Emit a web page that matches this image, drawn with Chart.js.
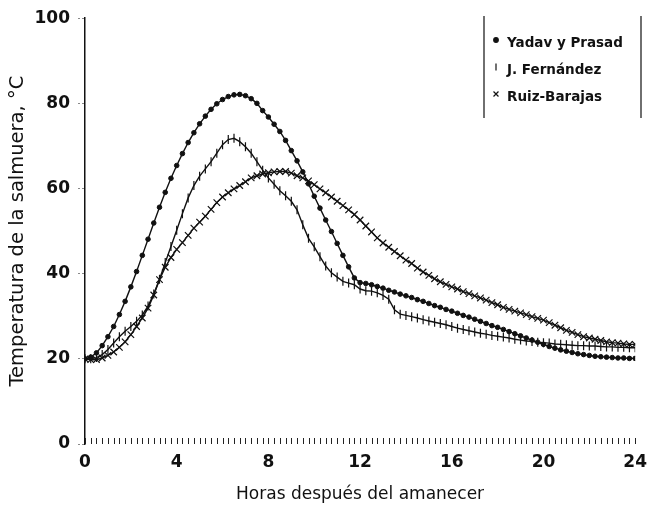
<!DOCTYPE html>
<html>
<head>
<meta charset="utf-8">
<script src="https://cdn.jsdelivr.net/npm/chart.js@4.4.1/dist/chart.umd.min.js"></script>
<style>
  html, body { margin: 0; padding: 0; background: #fff; }
  #wrap { width: 655px; height: 508px; }
</style>
</head>
<body>
<div id="wrap"><canvas id="brine-chart" width="655" height="508"></canvas></div>
<script>
// Hours after sunrise, one reading every quarter hour
const hours = [
    0, 0.25, 0.5, 0.75, 1, 1.25, 1.5, 1.75, 2, 2.25, 2.5, 2.75,
    3, 3.25, 3.5, 3.75, 4, 4.25, 4.5, 4.75, 5, 5.25, 5.5, 5.75,
    6, 6.25, 6.5, 6.75, 7, 7.25, 7.5, 7.75, 8, 8.25, 8.5, 8.75,
    9, 9.25, 9.5, 9.75, 10, 10.25, 10.5, 10.75, 11, 11.25, 11.5, 11.75,
    12, 12.25, 12.5, 12.75, 13, 13.25, 13.5, 13.75, 14, 14.25, 14.5, 14.75,
    15, 15.25, 15.5, 15.75, 16, 16.25, 16.5, 16.75, 17, 17.25, 17.5, 17.75,
    18, 18.25, 18.5, 18.75, 19, 19.25, 19.5, 19.75, 20, 20.25, 20.5, 20.75,
    21, 21.25, 21.5, 21.75, 22, 22.25, 22.5, 22.75, 23, 23.25, 23.5, 23.75,
    24
];

// Brine temperature, °C
const yadavPrasad = [
    20.0, 20.4, 21.4, 23.1, 25.2, 27.6, 30.4, 33.5, 36.9, 40.5, 44.3, 48.1,
    51.9, 55.6, 59.1, 62.4, 65.4, 68.2, 70.8, 73.1, 75.2, 77.0, 78.6, 79.9,
    80.9, 81.6, 82.0, 82.1, 81.8, 81.1, 80.0, 78.3, 76.8, 75.1, 73.4, 71.3,
    68.9, 66.5, 63.9, 61.1, 58.2, 55.4, 52.6, 49.9, 47.1, 44.3, 41.6, 39.0,
    37.9, 37.7, 37.4, 37.0, 36.6, 36.1, 35.7, 35.2, 34.8, 34.4, 33.9, 33.5,
    33.0, 32.5, 32.1, 31.6, 31.2, 30.7, 30.2, 29.8, 29.3, 28.8, 28.3, 27.8,
    27.4, 26.9, 26.4, 25.9, 25.4, 24.9, 24.4, 23.9, 23.4, 22.9, 22.5, 22.1,
    21.8, 21.5, 21.2, 21.0, 20.8, 20.6, 20.5, 20.4, 20.3, 20.2, 20.2, 20.1,
    20.1
];

const fernandez = [
    20.0, 20.0, 20.3, 21.0, 22.2, 23.7, 25.2, 26.5, 27.6, 28.8, 30.3, 32.4,
    35.2, 38.7, 42.6, 46.4, 50.2, 54.1, 57.8, 60.7, 62.9, 64.6, 66.3, 68.3,
    70.3, 71.5, 71.8, 71.0, 69.8, 68.3, 66.3, 64.3, 62.5, 61.0, 59.5, 58.3,
    57.0, 55.0, 51.5, 48.3, 46.3, 44.0, 41.8, 40.2, 39.2, 38.2, 37.8, 37.4,
    36.4, 36.0, 35.9, 35.5, 34.9, 34.0, 31.5, 30.5, 30.2, 29.9, 29.6, 29.2,
    28.9, 28.6, 28.3, 28.0, 27.6, 27.2, 26.9, 26.6, 26.3, 26.0, 25.8, 25.5,
    25.3, 25.1, 24.9, 24.6, 24.4, 24.2, 24.1, 23.9, 23.8, 23.7, 23.5, 23.4,
    23.3, 23.2, 23.1, 23.1, 23.0, 23.0, 22.9, 22.8, 22.8, 22.7, 22.7, 22.6,
    22.6
];

const ruizBarajas = [
    20.0, 19.8, 19.8, 20.2, 20.8, 21.6, 22.7, 24.0, 25.7, 27.6, 29.6, 31.9,
    35.0, 38.6, 41.5, 43.8, 45.7, 47.3, 49.0, 50.7, 52.1, 53.5, 55.1, 56.7,
    58.0, 59.0, 59.9, 60.7, 61.6, 62.5, 63.0, 63.4, 63.7, 63.9, 64.0, 64.0,
    63.6, 63.0, 62.5, 61.8, 60.9, 59.9, 59.0, 58.0, 57.0, 56.0, 55.0, 53.9,
    52.6, 51.2, 49.8, 48.4, 47.2, 46.2, 45.2, 44.2, 43.2, 42.4, 41.3, 40.4,
    39.6, 38.8, 38.1, 37.5, 36.9, 36.4, 35.8, 35.3, 34.8, 34.3, 33.8, 33.2,
    32.7, 32.1, 31.6, 31.2, 30.8, 30.4, 29.9, 29.5, 29.1, 28.5, 27.9, 27.3,
    26.7, 26.2, 25.7, 25.2, 24.9, 24.6, 24.3, 24.0, 23.8, 23.7, 23.5, 23.4,
    23.4
];

const seriesNames = ['Yadav y Prasad', 'J. Fern\u00e1ndez', 'Ruiz-Barajas'];
const xTickValues = [0, 4, 8, 12, 16, 20, 24];
const yTickValues = [0, 20, 40, 60, 80, 100];

const FONT = 'DejaVu Sans';
const INK = '#111';

const markers = [
    { pointStyle: 'circle', radius: 2.3, rotation: 0, borderWidth: 1 },
    { pointStyle: 'line', radius: 4.5, rotation: 90, borderWidth: 1.2 },
    { pointStyle: 'crossRot', radius: 4.6, rotation: 0, borderWidth: 1.2 }
];

function toPoints(values) {
    return hours.map((h, i) => ({ x: h, y: values[i] }));
}

// Short upward marks along the time axis, one per reading
const minorTicks = {
    id: 'minorTicks',
    afterDraw(chart) {
        const { ctx, chartArea, scales } = chart;
        ctx.save();
        ctx.strokeStyle = '#222';
        ctx.lineWidth = 1;
        hours.forEach(h => {
            const x = Math.round(scales.x.getPixelForValue(h)) + 0.5;
            ctx.beginPath();
            ctx.moveTo(x, chartArea.bottom - 6);
            ctx.lineTo(x, chartArea.bottom);
            ctx.stroke();
        });
        ctx.restore();
    }
};

// Legend box in the upper right corner: two side rules, marker + name per row
const sideLegend = {
    id: 'sideLegend',
    afterDraw(chart) {
        const { ctx } = chart;
        const left = 484, right = 641, top = 16, bottom = 118;
        const rows = [43, 70, 97];
        ctx.save();
        ctx.strokeStyle = INK;
        ctx.lineWidth = 1.2;
        ctx.beginPath();
        ctx.moveTo(left, top); ctx.lineTo(left, bottom);
        ctx.moveTo(right, top); ctx.lineTo(right, bottom);
        ctx.stroke();

        ctx.font = `bold 13.5px "${FONT}"`;
        ctx.textBaseline = 'middle';
        seriesNames.forEach((name, i) => {
            const m = markers[i];
            ctx.fillStyle = INK;
            ctx.strokeStyle = INK;
            Chart.helpers.drawPoint(ctx, {
                pointStyle: m.pointStyle,
                radius: Math.min(m.radius, 3.5),
                rotation: m.rotation,
                borderWidth: 1
            }, 496, rows[i] - 3);
            ctx.fillText(name, 507, rows[i]);
        });
        ctx.restore();
    }
};

Chart.defaults.font.family = FONT;
Chart.defaults.color = INK;

const datasets = [yadavPrasad, fernandez, ruizBarajas].map((values, i) => ({
    label: seriesNames[i],
    data: toPoints(values),
    borderColor: INK,
    backgroundColor: INK,
    borderWidth: 1.4,
    tension: 0,
    pointStyle: markers[i].pointStyle,
    pointRadius: markers[i].radius,
    pointRotation: markers[i].rotation,
    pointBorderWidth: markers[i].borderWidth,
    pointBorderColor: INK,
    pointBackgroundColor: INK,
    pointHoverRadius: markers[i].radius
}));

new Chart(document.getElementById('brine-chart'), {
    type: 'line',
    data: { datasets },
    options: {
        responsive: false,
        animation: false,
        layout: { padding: { top: 18, right: 14, left: 0, bottom: 0 } },
        plugins: {
            legend: { display: false },
            tooltip: { enabled: false }
        },
        scales: {
            x: {
                type: 'linear',
                min: 0,
                max: 24,
                afterBuildTicks: scale => { scale.ticks = xTickValues.map(v => ({ value: v })); },
                afterFit: scale => { scale.height = 64; },
                ticks: {
                    color: INK,
                    padding: 8,
                    maxRotation: 0,
                    font: { size: 17, weight: 'bold' }
                },
                grid: { display: false, drawTicks: false },
                border: { display: false },
                title: {
                    display: true,
                    text: 'Horas despu\u00e9s del amanecer',
                    color: INK,
                    font: { size: 17 },
                    padding: { top: 0, bottom: 3 }
                }
            },
            y: {
                min: 0,
                max: 100,
                afterBuildTicks: scale => { scale.ticks = yTickValues.map(v => ({ value: v })); },
                afterFit: scale => { scale.width = 85; },
                ticks: {
                    color: INK,
                    padding: 8,
                    font: { size: 17, weight: 'bold' }
                },
                grid: {
                    drawOnChartArea: false,
                    tickLength: 7,
                    tickColor: '#888',
                    tickBorderDash: [2, 2]
                },
                border: { display: true, color: INK, width: 1.5 },
                title: {
                    display: true,
                    text: 'Temperatura de la salmuera, \u00b0C',
                    color: INK,
                    font: { size: 19.5 },
                    padding: { top: 6, bottom: 0 }
                }
            }
        }
    },
    plugins: [minorTicks, sideLegend]
});
</script>
</body>
</html>
